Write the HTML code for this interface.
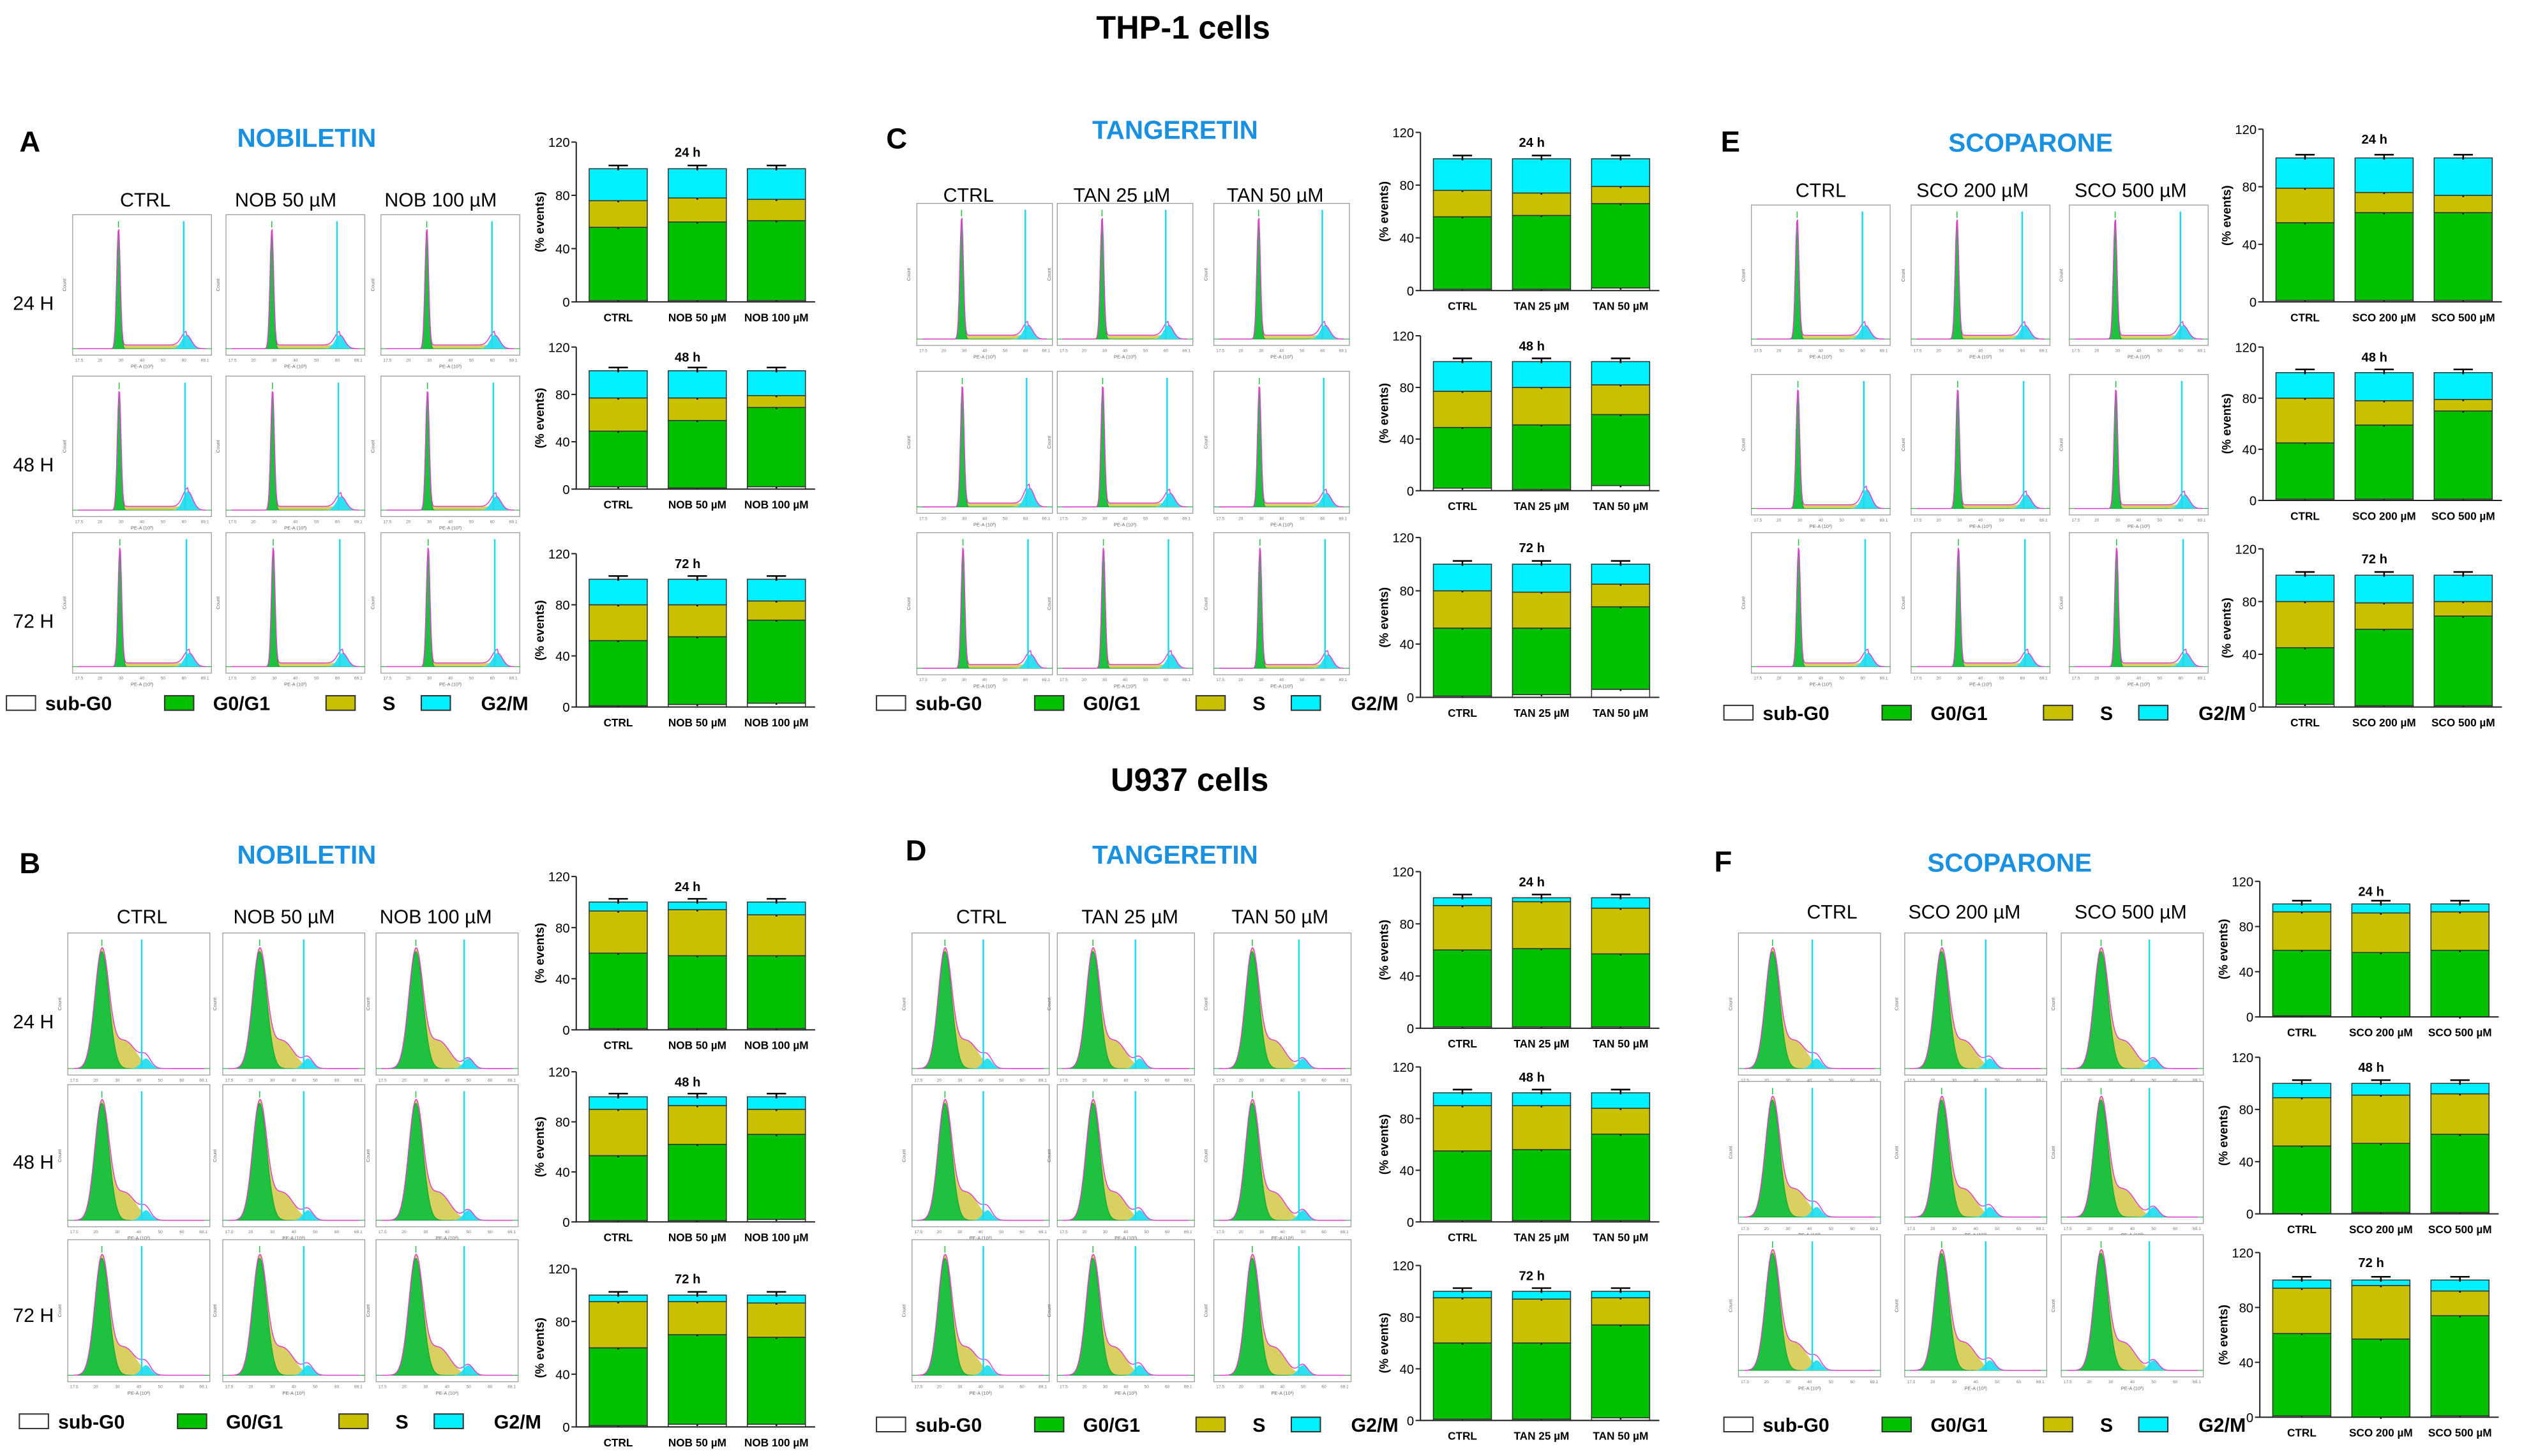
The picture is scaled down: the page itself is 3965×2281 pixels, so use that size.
<!DOCTYPE html>
<html><head><meta charset="utf-8">
<style>
html,body{margin:0;padding:0;background:#fff;}
svg{display:block;font-family:"Liberation Sans",Arial,sans-serif;}
</style></head>
<body>
<svg id="fig" width="3965" height="2281" viewBox="0 0 1568 902" xmlns="http://www.w3.org/2000/svg">
<text x="733" y="24" text-anchor="middle" font-size="20" font-weight="bold">THP-1 cells</text>
<text x="737" y="490" text-anchor="middle" font-size="20" font-weight="bold">U937 cells</text>
</svg>
<script>
// ---- data: percent of events per phase; order per chart: [CTRL, low dose, high dose]
const timeLabels = ['24 h','48 h','72 h'];
const yTicks = [0,40,80,120];
const catA = ['CTRL','NOB 50 µM','NOB 100 µM'];
const catC = ['CTRL','TAN 25 µM','TAN 50 µM'];
const catE = ['CTRL','SCO 200 µM','SCO 500 µM'];
// sub-G0 values
const subA = [[1,1,1],[2,1,2],[1,2,3]];
const subC = [[1,1,2],[2,1,4],[1,2,6]];
const subE = [[1,1,1],[1,1,1],[2,1,1]];
const subB = [[1,1,1],[1,1,2],[1,2,2]];
const subD = [[1,1,1],[1,1,1],[1,1,2]];
const subF = [[1,0,0],[0,1,1],[1,0,1]];
// G0/G1 top values (cumulative incl. sub-G0)
const g1A = [[56,60,61],[49,58,69],[52,55,68]];
const g1C = [[56,57,66],[49,51,59],[52,52,68]];
const g1E = [[55,62,62],[45,59,70],[45,59,69]];
const g1B = [[60,58,58],[53,62,70],[60,70,68]];
const g1D = [[60,61,57],[55,56,68],[60,60,74]];
const g1F = [[59,57,59],[52,54,61],[61,57,74]];
// S phase top values (cumulative)
const sA = [[76,78,77],[77,77,79],[80,80,83]];
const sC = [[76,74,79],[77,80,82],[80,79,85]];
const sE = [[79,76,74],[80,78,79],[80,79,80]];
const sB = [[93,94,90],[90,93,90],[95,95,94]];
const sD = [[94,97,92],[90,90,88],[95,94,95]];
const sF = [[93,92,93],[89,91,92],[94,96,92]];
// G2/M top (cumulative)
const g2Top = [[100,100,100],[100,100,100],[100,100,100]];

const NS='http://www.w3.org/2000/svg';
const svg=document.getElementById('fig');
function el(tag,attrs,parent,text){const e=document.createElementNS(NS,tag);for(const k in attrs)e.setAttribute(k,attrs[k]);if(text!==undefined)e.textContent=text;(parent||svg).appendChild(e);return e;}
const COL={sub:'#ffffff',g1:'#00c000',s:'#c8c000',g2:'#00f0ff'};

const panels=[
 {id:'a',letter:'A',lx:12,ly:94,drug:'NOBILETIN',dx:190,dy:91,cats:catA,hy:128,hx:[90,177,273],histX:[45,140,236],histW:86,histY:[133,233,330],histH:87,rows:[192,292,389],ax:357,bars:[[88,187],[215,303],[343,438]],legY:440,legX:4,type:'thp',sub:subA,g1:g1A,s:sA},
 {id:'c',letter:'C',lx:549,ly:92,drug:'TANGERETIN',dx:728,dy:86,cats:catC,hy:125,hx:[600,695,790],histX:[568,655,752],histW:84,histY:[126,230,330],histH:88,rows:null,ax:880,bars:[[82,180],[208,304],[333,432]],legY:440,legX:543,type:'thp',sub:subC,g1:g1C,s:sC},
 {id:'e',letter:'E',lx:1066,ly:94,drug:'SCOPARONE',dx:1258,dy:94,cats:catE,hy:122,hx:[1128,1222,1320],histX:[1085,1184,1282],histW:86,histY:[127,232,330],histH:87,rows:null,ax:1402,bars:[[80,187],[215,310],[340,438]],legY:446,legX:1068,type:'thp',sub:subE,g1:g1E,s:sE},
 {id:'b',letter:'B',lx:12,ly:541,drug:'NOBILETIN',dx:190,dy:535,cats:catA,hy:572,hx:[88,176,270],histX:[42,138,233],histW:88,histY:[578,672,768],histH:88,rows:[637,724,819],ax:357,bars:[[543,638],[664,757],[786,884]],legY:885,legX:12,type:'u937',sub:subB,g1:g1B,s:sB},
 {id:'d',letter:'D',lx:561,ly:533,drug:'TANGERETIN',dx:728,dy:535,cats:catC,hy:572,hx:[608,700,793],histX:[565,655,752],histW:85,histY:[578,672,768],histH:88,rows:null,ax:880,bars:[[540,637],[661,757],[784,880]],legY:887,legX:543,type:'u937',sub:subD,g1:g1D,s:sD},
 {id:'f',letter:'F',lx:1062,ly:540,drug:'SCOPARONE',dx:1245,dy:540,cats:catE,hy:569,hx:[1135,1217,1320],histX:[1077,1180,1277],histW:88,histY:[578,670,765],histH:88,rows:null,ax:1400,bars:[[546,630],[655,752],[776,878]],legY:887,legX:1068,type:'u937',sub:subF,g1:g1F,s:sF}
];

function gauss(x,m,s){return Math.exp(-((x-m)*(x-m))/(2*s*s));}

function histogram(g,x0,y0,w,h,type,col,row){
  const fr=el('rect',{x:x0,y:y0,width:w,height:h,fill:'#fff',stroke:'#999','stroke-width':0.5},g);
  
  
  const N=160, pts=[];
  let p;
  if(type==='thp'){ p={m1:0.33+0.005*row,s1:0.013,h1:0.96,sm:0.55,ss:0.5,sh:0.03,m2:0.82+0.01*row,s2:0.035,h2:0.11+0.04*(row===1&&col===0?1:0),line:0.8+0.01*row}; }
  else { p={m1:0.24+0.02*col,s1:0.05,h1:0.93,sm:0.40+0.02*col,ss:0.08,sh:0.22,m2:0.55+0.05*col,s2:0.035,h2:0.08,line:0.52+0.05*col}; }
  const base=y0+h-4, H=h-10;
  function yv(f){return base-f*H;}
  let g1p=[],sp=[],g2p=[],tot=[];
  for(let i=0;i<=N;i++){
    const t=0.04+0.92*i/N, x=x0+t*w;
    const a=p.h1*gauss(t,p.m1,p.s1);
    const sr=(type==='thp')?(t>p.m1&&t<p.m2?p.sh:0):p.sh*gauss(t,p.sm,p.ss);
    const c=p.h2*gauss(t,p.m2,p.s2);
    g1p.push([x,yv(a)]);sp.push([x,yv(a+sr)]);tot.push([x,yv(a+sr+c)]);g2p.push([x,yv(c)]);
  }
  const toPath=(arr)=>'M'+x0+' '+base+' '+arr.map(q=>'L'+q[0].toFixed(2)+' '+q[1].toFixed(2)).join(' ')+' L'+(x0+w)+' '+base+' Z';
  const sP=el('path',{d:toPath(sp),fill:'#d8d060',stroke:'none'},g);
  
  const gP=el('path',{d:toPath(g1p),fill:'#20c040',stroke:'#10a030','stroke-width':0.4},g);
  
  const cP=el('path',{d:toPath(g2p),fill:'#30e0f0',stroke:'none'},g);
  
  const oP=el('path',{d:'M'+tot.map(q=>q[0].toFixed(2)+' '+q[1].toFixed(2)).join(' L'),fill:'none',stroke:'#e040d0','stroke-width':0.6},g);
  
  const lx=x0+p.line*w;
  const ln=el('line',{x1:lx,x2:lx,y1:y0+4,y2:base,stroke:'#20d8f0','stroke-width':1},g);
  
  const gl=el('line',{x1:x0+p.m1*w,x2:x0+p.m1*w,y1:y0+4,y2:y0+8,stroke:'#20c040','stroke-width':0.6},g);
  
  const xl=el('text',{x:x0+w/2,y:y0+h+8,'text-anchor':'middle','font-size':3,fill:'#666'},g,'PE-A (10³)');
  
  const yl=el('text',{x:x0-4,y:y0+h/2,'text-anchor':'middle','font-size':3,fill:'#666',transform:'rotate(-90 '+(x0-4)+' '+(y0+h/2)+')'},g,'Count');
  
  for(let k=0;k<7;k++){const tx=x0+4+k*(w-8)/6;const tk=el('text',{x:tx,y:y0+h+4,'text-anchor':'middle','font-size':2.6,fill:'#777'},g,['17.5','20','30','40','50','60','69.1'][k]);}
}

function barChart(g,ax,yTop,yBot,ti,P){
  const sc=v=>yBot-(v/120)*(yBot-yTop);
  const axW=148;
  for(let i=0;i<3;i++){
    const bx=ax+8+i*49, bw=36;
    const sub=P.sub[ti][i], g1=P.g1[ti][i], s=P.s[ti][i], top=g2Top[ti][i];
    const segs=[[0,sub,COL.sub,'sub-g0'],[sub,g1,COL.g1,'g0g1'],[g1,s,COL.s,'s-phase'],[s,top,COL.g2,'g2m']];
    segs.forEach(sg=>{
      const r=el('rect',{x:bx,y:sc(sg[1]),width:bw,height:Math.max(0,sc(sg[0])-sc(sg[1])),fill:sg[2],stroke:'#333','stroke-width':0.6},g);
      
      
      const ey=sc(sg[1]);
      const eb=el('path',{d:`M${bx+bw/2-6} ${ey-2} L${bx+bw/2+6} ${ey-2} M${bx+bw/2} ${ey-2} L${bx+bw/2} ${ey+1}`,stroke:'#000','stroke-width':1,fill:'none'},g);
      
      
    });
    const xl=el('text',{x:bx+bw/2,y:yBot+12,'text-anchor':'middle','font-size':6.8,'font-weight':'bold'},g,P.cats[i]);
    
    
  }
  const axl=el('path',{d:`M${ax} ${yTop} L${ax} ${yBot} L${ax+axW} ${yBot}`,stroke:'#222','stroke-width':0.8,fill:'none'},g);
  
  
  yTicks.forEach(t=>{
    const tk=el('line',{x1:ax-3,x2:ax,y1:sc(t),y2:sc(t),stroke:'#222','stroke-width':0.8},g);
    
    
    const tl=el('text',{x:ax-4,y:sc(t)+3,'text-anchor':'end','font-size':8},g,String(t));
    
    
  });
  const tt=el('text',{x:ax+axW/2-5,y:yTop+9,'text-anchor':'middle','font-size':8,'font-weight':'bold'},g,timeLabels[ti]);
  
  
  const ym=(yTop+yBot)/2, yx=ax-20;
  const yt=el('text',{x:yx,y:ym,'text-anchor':'middle','font-size':7.5,'font-weight':'bold',transform:`rotate(-90 ${yx} ${ym})`},g,'(% events)');
  
  
}

panels.forEach(P=>{
  const g=el('g',{});
  
  
  const lt=el('text',{x:P.lx,y:P.ly,'font-size':18,'font-weight':'bold'},g,P.letter);
  
  
  const dt=el('text',{x:P.dx,y:P.dy,'text-anchor':'middle','font-size':16,'font-weight':'bold',fill:'#1a90e0'},g,P.drug);
  
  
  P.cats.forEach((c,i)=>{
    const h=el('text',{x:P.hx[i],y:P.hy,'text-anchor':'middle','font-size':12},g,c);
    
    
  });
  if(P.rows){['24 H','48 H','72 H'].forEach((r,i)=>{
    const t=el('text',{x:8,y:P.rows[i],'font-size':12},g,r);
    
    
  });}
  for(let r=0;r<3;r++)for(let c=0;c<3;c++){
    const hg=el('g',{},g);
    
    
    histogram(hg,P.histX[c],P.histY[r],P.histW,P.histH,P.type,c,r);
  }
  for(let t=0;t<3;t++){
    const bg=el('g',{},g);
    
    
    barChart(bg,P.ax,P.bars[t][0],P.bars[t][1],t,P);
  }
  const leg=[['sub-G0',COL.sub,0,24],['G0/G1',COL.g1,98,128],['S',COL.s,198,233],['G2/M',COL.g2,257,294]];
  leg.forEach(L=>{
    const b=el('rect',{x:P.legX+L[2],y:P.legY-9,width:18,height:9,fill:L[1],stroke:'#333','stroke-width':0.8},g);
    
    
    const t=el('text',{x:P.legX+L[3],y:P.legY,'font-size':12,'font-weight':'bold'},g,L[0]);
    
    
  });
});
</script>
</body></html>
